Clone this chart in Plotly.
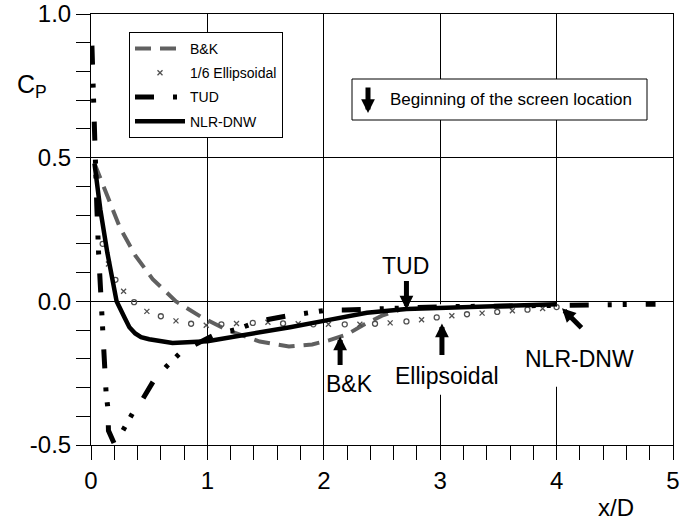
import plotly.graph_objects as go

# Pressure coefficient along the wall, x/D downstream of the model
bk_x = [0.03, 0.08, 0.14, 0.25, 0.38, 0.53, 0.73, 0.95, 1.17, 1.45, 1.7, 1.9, 2.05, 2.2, 2.35, 2.5, 2.65]
bk_cp = [0.48, 0.43, 0.37, 0.255, 0.16, 0.077, 0.0, -0.055, -0.1, -0.14, -0.157, -0.15, -0.135, -0.115, -0.08, -0.05, -0.03]

ell_x = [0.06, 0.10, 0.15, 0.21, 0.28, 0.37, 0.48, 0.60, 0.73, 0.86, 0.99, 1.12, 1.25, 1.39, 1.52, 1.65,
         1.78, 1.91, 2.04, 2.18, 2.31, 2.44, 2.57, 2.71, 2.84, 2.97, 3.10, 3.23, 3.36, 3.49, 3.62, 3.75, 3.88, 4.0]
ell_cp = [0.32, 0.2, 0.13, 0.075, 0.035, -0.003, -0.035, -0.052, -0.068, -0.078, -0.083, -0.08, -0.077, -0.075,
          -0.073, -0.077, -0.078, -0.08, -0.08, -0.08, -0.08, -0.078, -0.075, -0.07, -0.064, -0.056, -0.05,
          -0.045, -0.041, -0.037, -0.033, -0.029, -0.025, -0.02]

tud_x = [0.008, 0.017, 0.034, 0.05, 0.065, 0.08, 0.095, 0.11, 0.13, 0.146, 0.15, 0.205, 0.283, 0.37, 0.447,
         0.54, 0.65, 0.78, 1.07, 1.25, 1.39, 1.52, 1.71, 1.85, 2.04, 2.18, 2.5, 2.7, 3.0, 4.0, 4.2, 4.5, 4.85]
tud_cp = [0.89, 0.73, 0.58, 0.33, 0.17, 0.05, -0.08, -0.2, -0.32, -0.375, -0.45, -0.5, -0.446, -0.38, -0.338,
          -0.275, -0.226, -0.174, -0.115, -0.098, -0.077, -0.063, -0.049, -0.042, -0.03, -0.03, -0.027, -0.022,
          -0.019, -0.014, -0.013, -0.013, -0.01]

nlr_x = [0.03, 0.08, 0.14, 0.18, 0.22, 0.29, 0.33, 0.38, 0.43, 0.5, 0.7, 1.0, 1.37, 1.71, 2.0, 2.37, 2.71, 3.0, 3.5, 4.0]
nlr_cp = [0.48, 0.32, 0.17, 0.09, 0.0, -0.058, -0.09, -0.112, -0.125, -0.132, -0.145, -0.139, -0.115, -0.09,
          -0.068, -0.04, -0.027, -0.023, -0.017, -0.01]

# Beginning of the screen for each configuration: (label, x/D, Cp at the arrow tip)
screen_names = ["TUD", "B&K", "Ellipsoidal", "NLR-DNW"]
screen_x = [2.71, 2.14, 3.015, 4.046]
screen_cp = [-0.028, -0.122, -0.077, -0.024]

x_ticks = [0, 1, 2, 3, 4, 5]
y_ticks = [-0.5, 0.0, 0.5, 1.0]
y_tick_labels = ["-0.5", "0.0", "0.5", "1.0"]

SANS = "Liberation Sans, Arial, sans-serif"

# Plot-area geometry in pixels, used to place the free-standing texts and boxes
L, R, T, B = 91, 673, 14, 445
W, H = R - L, B - T


def px(xp):
    return (xp - L) / W


def py(yp):
    return (B - yp) / H


fig = go.Figure()
fig.add_trace(go.Scatter(x=bk_x, y=bk_cp, mode="lines", name="B&K", legendgroup="bk",
                         line=dict(color="#606060", width=4, dash="16px,9px")))
fig.add_trace(go.Scatter(x=ell_x, y=ell_cp, mode="markers", name="1/6 Ellipsoidal", legendgroup="ell",
                         marker=dict(symbol=["x-thin" if i % 2 == 0 else "circle-open" for i in range(len(ell_x))],
                                     size=5, color="#505050", line=dict(width=1.3, color="#505050"))))
fig.add_trace(go.Scatter(x=tud_x, y=tud_cp, mode="lines", name="TUD", legendgroup="tud",
                         line=dict(color="black", width=5, dash="19px,19px,4px,11px,4px,19px")))
fig.add_trace(go.Scatter(x=nlr_x, y=nlr_cp, mode="lines", name="NLR-DNW", legendgroup="nlr",
                         line=dict(color="black", width=4.5)))

axis_common = dict(
    showline=True, linecolor="black", linewidth=1, mirror=True, automargin=False,
    ticks="outside", ticklen=14, tickwidth=1, tickcolor="black",
    showgrid=True, gridcolor="black", gridwidth=1, zeroline=False,
    tickfont=dict(family=SANS, size=24, color="black"),
)
fig.update_xaxes(range=[0, 5], tickvals=x_ticks,
                 minor=dict(dtick=0.2, ticks="outside", ticklen=14, tickwidth=1, tickcolor="black", showgrid=False),
                 **axis_common)
fig.update_yaxes(range=[-0.5, 1.0], tickvals=y_ticks, ticktext=y_tick_labels, ticklabelstandoff=0,
                 minor=dict(dtick=0.1, ticks="outside", ticklen=14, tickwidth=1, tickcolor="black", showgrid=False),
                 **axis_common)

annotations = []
# Screen-location arrows and their labels
label_pos = {"TUD": (2.70, 0.122), "B&K": (2.225, -0.286), "Ellipsoidal": (3.06, -0.261), "NLR-DNW": (4.2, -0.199)}
tail_off = {"TUD": (0, -30), "B&K": (0, 30), "Ellipsoidal": (0, 33), "NLR-DNW": (21, 21)}
for name, sx, sc in zip(screen_names, screen_x, screen_cp):
    ax, ay = tail_off[name]
    annotations.append(dict(x=sx, y=sc, xref="x", yref="y", text="", showarrow=True,
                             ax=ax, ay=ay, arrowhead=2, arrowsize=0.55, arrowwidth=5, arrowcolor="black"))
    lx, ly = label_pos[name]
    annotations.append(dict(x=lx, y=ly, xref="x", yref="y", text=name, showarrow=False,
                            xanchor="center", yanchor="middle", bgcolor="white",
                            font=dict(family=SANS, size=23, color="black")))

# Axis titles
annotations.append(dict(x=px(15), y=py(86), xref="paper", yref="paper", text="C<sub>P</sub>",
                        xanchor="left", yanchor="middle",
                        showarrow=False, font=dict(family=SANS, size=25, color="black")))
annotations.append(dict(x=px(616), y=py(507), xref="paper", yref="paper", text="x/D",
                        xanchor="center", yanchor="middle", borderpad=0,
                        showarrow=False, font=dict(family=SANS, size=24, color="black")))

# Key box for the arrows
annotations.append(dict(x=px(388), y=py(99.5), xref="paper", yref="paper",
                        xanchor="left", yanchor="middle", text="Beginning of the screen location",
                        showarrow=False, font=dict(family=SANS, size=17, color="black")))
annotations.append(dict(x=px(368), y=py(113), xref="paper", yref="paper", text="",
                        showarrow=True, ax=0, ay=-27, arrowhead=2, arrowsize=0.55, arrowwidth=5,
                        arrowcolor="black"))

# White backing behind the lower labels and their arrows, hiding the grid there
label_backs = [
    dict(type="rect", xref="x", yref="y", x0=2.95, x1=3.05, y0=-0.325, y1=-0.01,
         line=dict(width=0), fillcolor="white", layer="between"),
    dict(type="rect", xref="x", yref="y", x0=3.95, x1=4.05, y0=-0.297, y1=-0.018,
         line=dict(width=0), fillcolor="white", layer="between"),
]

fig.update_layout(
    width=700, height=524,
    margin=dict(l=L, r=700 - R, t=T, b=524 - B),
    paper_bgcolor="white", plot_bgcolor="white",
    showlegend=True,
    legend=dict(x=px(129), y=py(32), xanchor="left", yanchor="top",
                bgcolor="white", bordercolor="black", borderwidth=1,
                font=dict(family=SANS, size=14, color="black"), itemwidth=50, tracegroupgap=3),
    annotations=annotations,
    shapes=label_backs + [dict(type="rect", xref="paper", yref="paper",
                               x0=px(352), x1=px(647), y0=py(120), y1=py(79),
                               line=dict(color="black", width=1), fillcolor="white", layer="above")],
)

fig.write_html("out.html")
